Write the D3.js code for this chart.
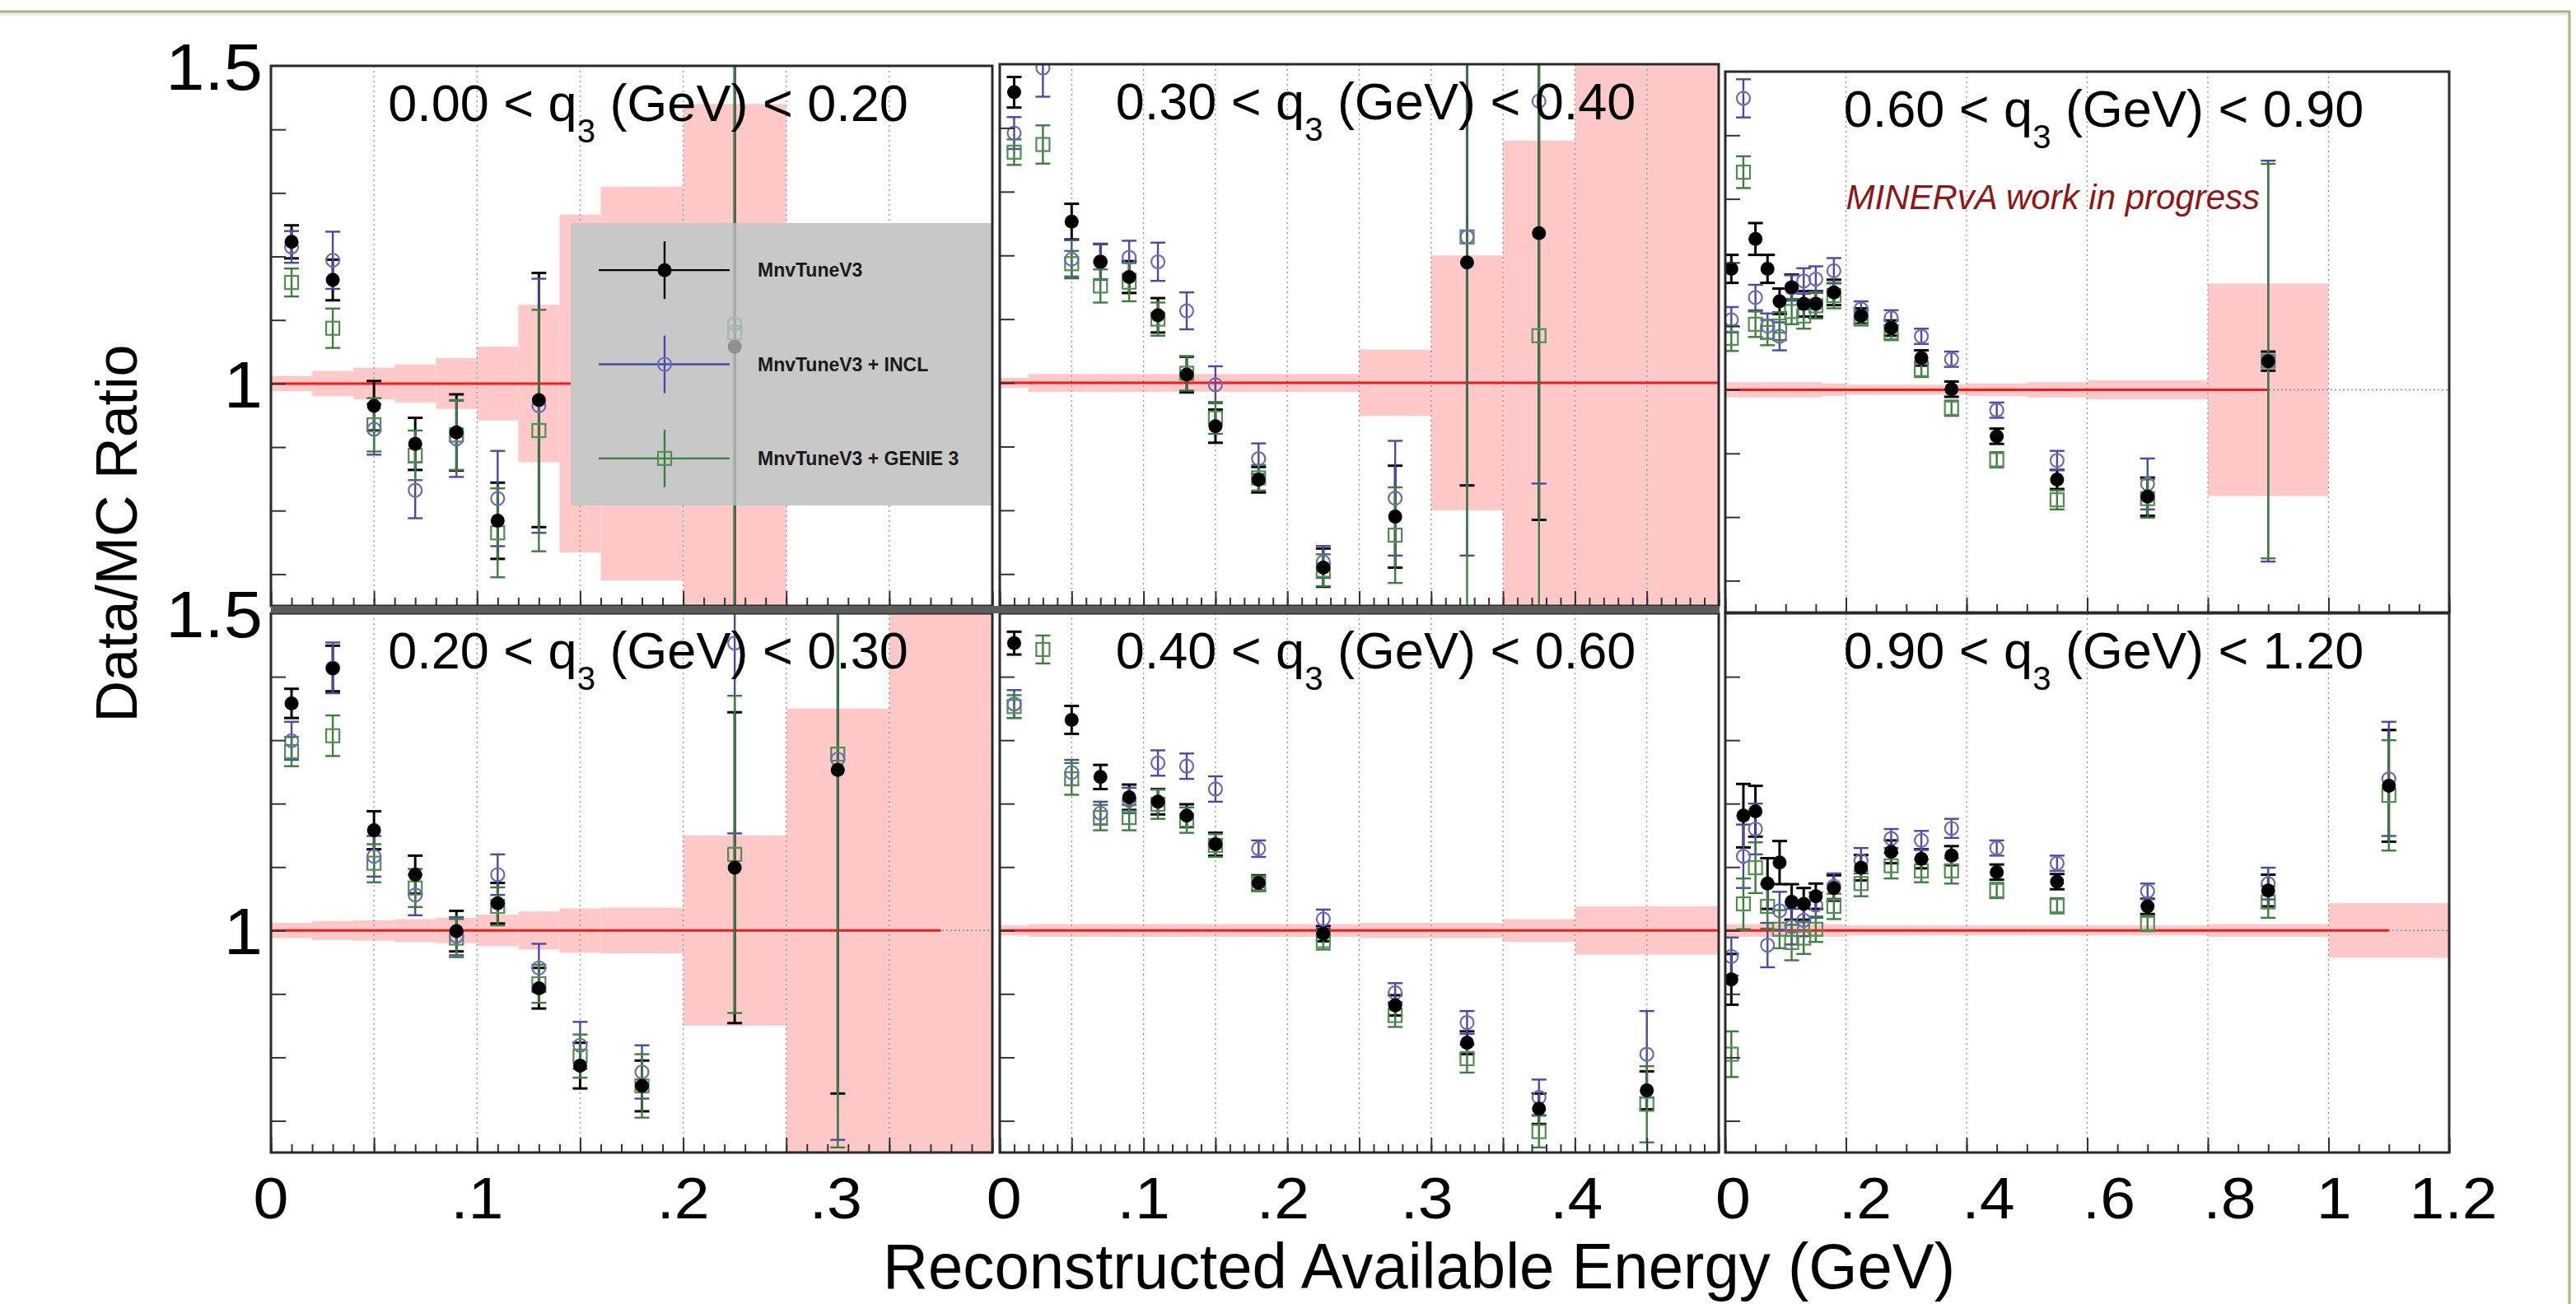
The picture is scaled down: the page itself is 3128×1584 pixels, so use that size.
<!DOCTYPE html>
<html><head><meta charset="utf-8">
<script src="https://cdn.jsdelivr.net/npm/d3@7"></script>
<style>html,body{margin:0;padding:0;background:#fff;} svg{display:block;font-family:"Liberation Sans",Arial,Helvetica,sans-serif;}</style>
</head><body><svg id="c" width="3128" height="1584"></svg>
<script>
// ---------------- data ----------------
const binEdges = [0,0.02,0.04,0.06,0.08,0.10,0.12,0.14,0.16,0.20,0.25,0.30,0.35,0.40,0.50,0.60,0.80,1.00,1.20];
const binCenters = [0.01,0.03,0.05,0.07,0.09,0.11,0.13,0.15,0.18,0.225,0.275,0.325,0.375,0.45,0.55,0.70,0.90,1.10];
const q3Low  = ["0.00","0.30","0.60","0.20","0.40","0.90"];
const q3High = ["0.20","0.40","0.90","0.30","0.60","1.20"];
const xMax = [0.35,0.5,1.2,0.35,0.5,1.2];
const yRange = [0.65,1.5];
const yTickValues = [0.7,0.8,0.9,1.0,1.1,1.2,1.3,1.4];
const yLabelValues = [1.5,1.0];
const yLabelText = ["1.5","1"];
const xLabelText = [["0",".1",".2",".3"],["0",".1",".2",".3",".4"],["0",".2",".4",".6",".8","1","1.2"]];
const xLabelAt = [[0,0.1,0.2,0.274],[0.003,0.1,0.197,0.297,0.401],[0.013,0.232,0.436,0.636,0.836,1.009,1.207]];
const seriesNames = ["MnvTuneV3","MnvTuneV3 + INCL","MnvTuneV3 + GENIE 3"];

const tuneV3 = [
 [1.223,1.163,0.965,0.905,0.923,0.784,0.974,null,null,1.058,null,null],
 [1.456,null,1.253,1.190,1.166,1.106,1.013,0.932,0.848,0.710,0.790,1.189,1.235,null],
 [1.190,null,1.237,1.190,1.139,1.161,1.135,1.135,1.153,1.116,1.097,1.050,1.001,0.927,0.859,0.832,1.045,null],
 [1.358,1.413,1.158,1.088,0.999,1.043,0.909,0.787,0.755,1.099,1.253,null],
 [1.453,null,1.332,1.242,1.210,1.203,1.181,1.136,1.075,0.995,0.882,0.823,0.719,0.748],
 [0.923,1.181,1.188,1.074,1.107,1.045,1.042,1.054,1.067,1.099,1.124,1.113,1.118,1.092,1.077,1.038,1.063,1.228]
];
const tuneV3Err = [
 [0.026,0.032,0.039,0.041,0.060,0.060,0.200,null,null,0.6,null,null],
 [0.024,null,0.028,0.028,0.025,0.027,0.028,0.026,0.020,0.030,0.080,0.350,0.450,null],
 [0.022,null,0.025,0.022,0.020,0.020,0.020,0.020,0.020,0.012,0.012,0.012,0.012,0.012,0.015,0.030,0.015,null],
 [0.023,0.036,0.030,0.030,0.032,0.032,0.032,0.036,0.040,0.245,0.510,null],
 [0.018,null,0.022,0.019,0.020,0.020,0.018,0.018,0.012,0.012,0.016,0.018,0.024,0.030],
 [0.040,0.050,0.040,0.040,0.034,0.028,0.025,0.020,0.020,0.020,0.018,0.015,0.015,0.012,0.012,0.012,0.025,0.088]
];
const incl = [
 [1.215,1.194,0.928,0.832,0.913,0.819,0.965,null,null,1.094,null,null],
 [1.392,1.494,1.194,1.190,1.197,1.190,1.113,0.997,0.881,0.719,0.819,1.229,1.442,null],
 [1.110,1.458,1.145,1.100,1.084,1.160,1.171,1.174,1.187,1.127,1.113,1.084,1.048,0.968,0.889,0.852,1.045,null],
 [1.299,1.414,1.117,1.056,0.991,1.088,0.941,0.819,0.777,1.453,1.270,null],
 [1.357,null,1.249,1.185,1.205,1.264,1.259,1.223,1.129,1.018,0.902,0.855,0.737,0.805],
 [0.959,1.117,1.160,0.977,1.031,1.006,1.016,1.040,1.070,1.110,1.145,1.142,1.161,1.130,1.106,1.062,1.074,1.239]
];
const inclErr = [
 [0.025,0.045,0.040,0.044,0.060,0.075,0.200,null,null,0.6,null,null],
 [0.025,0.045,0.030,0.028,0.026,0.030,0.029,0.029,0.024,0.025,0.090,0.500,0.600,null],
 [0.020,0.030,0.020,0.020,0.022,0.020,0.020,0.020,0.020,0.012,0.012,0.012,0.012,0.012,0.015,0.040,0.315,null],
 [0.030,0.040,0.032,0.032,0.030,0.032,0.038,0.037,0.042,0.300,0.600,null],
 [0.022,null,0.020,0.018,0.020,0.020,0.020,0.020,0.013,0.015,0.015,0.018,0.028,0.068],
 [0.030,0.050,0.040,0.035,0.030,0.028,0.025,0.020,0.020,0.020,0.015,0.015,0.015,0.012,0.012,0.012,0.025,0.090]
];
const genie3 = [
 [1.159,1.087,0.935,0.887,0.919,0.765,0.926,null,null,1.080,null,null],
 [1.362,1.374,1.187,1.152,1.158,1.100,1.015,0.945,0.851,0.706,0.761,1.229,1.074,null],
 [1.081,1.342,1.103,1.090,1.100,1.123,1.116,1.132,1.148,1.113,1.090,1.032,0.971,0.890,0.827,0.829,1.045,null],
 [1.282,1.307,1.106,1.067,0.988,1.038,0.916,0.802,0.755,1.120,1.278,null],
 [1.353,1.443,1.239,1.178,1.178,1.199,1.174,1.134,1.074,0.984,0.866,0.798,0.683,0.726],
 [0.805,1.042,1.099,1.038,1.002,0.981,0.988,1.002,1.038,1.074,1.102,1.094,1.094,1.063,1.039,1.011,1.045,1.213]
];
const genie3Err = [
 [0.022,0.031,0.042,0.039,0.055,0.070,0.190,null,null,0.9,null,null],
 [0.020,0.030,0.020,0.026,0.030,0.026,0.027,0.025,0.020,0.025,0.075,0.700,0.700,null],
 [0.020,0.025,0.020,0.020,0.022,0.020,0.020,0.020,0.020,0.012,0.012,0.012,0.012,0.012,0.015,0.030,0.310,null],
 [0.023,0.032,0.030,0.030,0.030,0.030,0.030,0.034,0.050,0.250,0.620,null],
 [0.018,0.022,0.025,0.020,0.020,0.023,0.020,0.018,0.012,0.014,0.018,0.022,0.025,0.060],
 [0.036,0.040,0.040,0.035,0.030,0.028,0.025,0.020,0.020,0.020,0.020,0.018,0.020,0.012,0.012,0.012,0.025,0.087]
];
// half-width of the MC uncertainty band per bin (around ratio = 1)
const mcBand = [
 [0.012,0.020,0.025,0.030,0.040,0.058,0.124,0.266,0.310,0.440,0,0],
 [0.008,0.014,0.014,0.014,0.014,0.014,0.014,0.014,0.014,0.014,0.052,0.200,0.380,0.600],
 [0.012,0.012,0.012,0.012,0.012,0.012,0.012,0.012,0.010,0.008,0.008,0.008,0.008,0.010,0.012,0.015,0.167,0],
 [0.012,0.015,0.016,0.018,0.020,0.025,0.030,0.035,0.036,0.150,0.350,0.600],
 [0.008,0.010,0.010,0.010,0.010,0.010,0.010,0.010,0.010,0.010,0.012,0.012,0.018,0.038],
 [0.010,0.010,0.010,0.010,0.010,0.010,0.010,0.010,0.010,0.008,0.008,0.008,0.008,0.008,0.008,0.008,0.010,0.043]
];
const redLineEnd = [0.325,0.55,0.9,0.325,0.55,1.1];

// ---------------- layout ----------------
const panelBox = [
 {x0:329, x1:1205, y0:80, y1:736},
 {x0:1214,x1:2087, y0:78, y1:736},
 {x0:2095,x1:2974, y0:87, y1:744},
 {x0:329, x1:1205, y0:745,y1:1400},
 {x0:1214,x1:2087, y0:745,y1:1400},
 {x0:2095,x1:2974, y0:745,y1:1400}
];
const gridStep = [0.05,0.05,0.2];
const minorStep = [0.01,0.01,0.05];
const styles = {
 tune:  {vals:tuneV3, errs:tuneV3Err, color:"#000000", mk:"circle", lw:3},
 incl:  {vals:incl,   errs:inclErr,   color:"#4a4aa2", mk:"ocircle", lw:2.4},
 genie: {vals:genie3, errs:genie3Err, color:"#3d7d3d", mk:"square", lw:2.4}
};
const errOrder = ["tune","incl","genie"];     // error bars: green drawn last
const markerOrder = ["genie","incl","tune"];  // markers: black on top
const legendOrder = ["tune","incl","genie"];

const svg = d3.select("#c");
const defs = svg.append("defs");

// outer slide frame
svg.append("line").attr("x1",0).attr("x2",3120).attr("y1",17).attr("y2",17).attr("stroke","#ececec").attr("stroke-width",4);
svg.append("line").attr("x1",0).attr("x2",3121).attr("y1",14).attr("y2",14).attr("stroke","#a6b87a").attr("stroke-width",3);
svg.append("line").attr("x1",3120).attr("x2",3120).attr("y1",13).attr("y2",1584).attr("stroke","#a6b87a").attr("stroke-width",3);

function nsteps(max, step){ const n=Math.round(max/step); const a=[]; for(let k=0;k<=n;k++) a.push(+(k*step).toFixed(4)); return a; }

function drawMarker(g, type, cx, cy, color){
  if(type==="circle") g.append("circle").attr("cx",cx).attr("cy",cy).attr("r",8.5).attr("fill",color);
  else if(type==="ocircle") g.append("circle").attr("cx",cx).attr("cy",cy).attr("r",8).attr("fill","none").attr("stroke","#6a6ab8").attr("stroke-width",2.2);
  else g.append("rect").attr("x",cx-8).attr("y",cy-8).attr("width",16).attr("height",16).attr("fill","none").attr("stroke","#4f8f4f").attr("stroke-width",2.2);
}

panelBox.forEach((b,i)=>{
  const col = i%3;
  const x = d3.scaleLinear().domain([0,xMax[i]]).range([b.x0,b.x1]);
  const y = d3.scaleLinear().domain(yRange).range([b.y1,b.y0]);
  defs.append("clipPath").attr("id","clip"+i).append("rect")
    .attr("x",b.x0).attr("y",b.y0).attr("width",b.x1-b.x0).attr("height",b.y1-b.y0);
  const g = svg.append("g").attr("clip-path",`url(#clip${i})`);

  // MC uncertainty band
  mcBand[i].forEach((h,k)=>{
    if(!h) return;
    g.append("rect").attr("x",x(binEdges[k])).attr("width",x(binEdges[k+1])-x(binEdges[k]))
      .attr("y",y(1+h)).attr("height",y(1-h)-y(1+h)).attr("fill","#ffc9c9");
  });
  // vertical grid lines
  const grid = nsteps(xMax[i],gridStep[col]).filter(v=>v>0 && v<xMax[i]-1e-6);
  g.selectAll(".grid").data(grid).enter().append("line")
    .attr("x1",d=>x(d)).attr("x2",d=>x(d)).attr("y1",b.y0).attr("y2",b.y1)
    .attr("stroke","#9a9a9a").attr("stroke-width",1.4).attr("stroke-dasharray","2,4");
  // dotted line at 1
  g.append("line").attr("x1",b.x0).attr("x2",b.x1).attr("y1",y(1)).attr("y2",y(1))
    .attr("stroke","#8a8a8a").attr("stroke-width",1.5).attr("stroke-dasharray","2,3");
  // MC/MC line
  g.append("line").attr("x1",x(0)).attr("x2",x(redLineEnd[i])).attr("y1",y(1)).attr("y2",y(1))
    .attr("stroke","#f01c1c").attr("stroke-width",3);

  let legBox=null;
  if(i===0){
    legBox = {x0:693, x1:b.x1, y0:271, y1:614};
    g.append("rect").attr("x",legBox.x0).attr("y",legBox.y0).attr("width",legBox.x1-legBox.x0)
      .attr("height",legBox.y1-legBox.y0).attr("fill","#c8c8c8");
  }

  // error bars
  errOrder.forEach(key=>{
    const s = styles[key];
    s.vals[i].forEach((v,k)=>{
      if(v===null) return;
      const cx = x(binCenters[k]);
      const e = s.errs[i][k];
      g.append("line").attr("x1",cx).attr("x2",cx).attr("y1",y(v-e)).attr("y2",y(v+e))
        .attr("stroke",s.color).attr("stroke-width",s.lw);
      [v-e,v+e].forEach(c=>{
        g.append("line").attr("x1",cx-9).attr("x2",cx+9).attr("y1",y(c)).attr("y2",y(c))
          .attr("stroke",s.color).attr("stroke-width",s.lw);
      });
    });
  });
  // markers
  markerOrder.forEach(key=>{
    const s = styles[key];
    s.vals[i].forEach((v,k)=>{
      if(v===null) return;
      drawMarker(g, s.mk, x(binCenters[k]), y(v), s.color);
    });
  });

  if(legBox){
    g.append("rect").attr("x",legBox.x0).attr("y",legBox.y0).attr("width",legBox.x1-legBox.x0)
      .attr("height",legBox.y1-legBox.y0).attr("fill","#c8c8c8").attr("opacity",0.72);
    const hh = (legBox.y1-legBox.y0)/3;
    legendOrder.forEach((key,j)=>{
      const s = styles[key];
      const cy = legBox.y0 + hh*(j+0.5);
      const mx = legBox.x0 + 114;
      g.append("line").attr("x1",legBox.x0+34).attr("x2",legBox.x0+193).attr("y1",cy).attr("y2",cy).attr("stroke",s.color).attr("stroke-width",2.4);
      g.append("line").attr("x1",mx).attr("x2",mx).attr("y1",cy-35).attr("y2",cy+35).attr("stroke",s.color).attr("stroke-width",2.4);
      drawMarker(g, s.mk, mx, cy, s.color);
      g.append("text").attr("x",legBox.x0+227).attr("y",cy+8).attr("font-size",23).attr("font-weight","bold")
        .attr("fill","#1a1a1a").text(seriesNames[j]);
    });
  }

  // axes ticks (inward)
  const minor = nsteps(xMax[i],minorStep[col]);
  const axMinor = svg.append("g").attr("transform",`translate(0,${b.y1})`)
    .call(d3.axisBottom(x).tickValues(minor).tickSize(-10).tickFormat(""));
  axMinor.select(".domain").remove();
  axMinor.selectAll("line").attr("stroke","#333").attr("stroke-width",2);
  const axMajor = svg.append("g").attr("transform",`translate(0,${b.y1})`)
    .call(d3.axisBottom(x).tickValues(nsteps(xMax[i],gridStep[col])).tickSize(-18).tickFormat(""));
  axMajor.select(".domain").remove();
  axMajor.selectAll("line").attr("stroke","#333").attr("stroke-width",2);
  const axY = svg.append("g").attr("transform",`translate(${b.x0},0)`)
    .call(d3.axisLeft(y).tickValues(yTickValues).tickSize(-18).tickFormat(""));
  axY.select(".domain").remove();
  axY.selectAll("line").attr("stroke","#333").attr("stroke-width",2);

  // frame
  svg.append("rect").attr("x",b.x0).attr("y",b.y0).attr("width",b.x1-b.x0).attr("height",b.y1-b.y0)
    .attr("fill","none").attr("stroke","#2a2a2a").attr("stroke-width",3);

  // title
  const t = svg.append("text").attr("x",(b.x0+b.x1)/2+20).attr("y",b.y0+67).attr("text-anchor","middle")
    .attr("font-size",63).attr("fill","#000");
  t.append("tspan").text(`${q3Low[i]} < q`);
  t.append("tspan").attr("dy",26).attr("font-size",40).text("3");
  t.append("tspan").attr("dy",-26).text(` (GeV) < ${q3High[i]}`);

  // y labels on left column
  if(col===0){
    yLabelValues.forEach((v,j)=>{
      svg.append("text").attr("transform",`translate(${b.x0-10},${y(v)+29}) scale(1.06,1)`)
        .attr("text-anchor","end").attr("font-size",80).attr("fill","#000").text(yLabelText[j]);
    });
  }
  // x labels on bottom row
  if(i>=3){
    xLabelText[col].forEach((txt,j)=>{
      svg.append("text").attr("transform",`translate(${x(xLabelAt[col][j])},1480) scale(1.1,1)`)
        .attr("text-anchor","middle").attr("font-size",70).attr("fill","#000").text(txt);
    });
  }
  if(i===2){
    svg.append("text").attr("x",x(0.2)).attr("y",b.y0+167).attr("font-size",42)
      .attr("font-style","italic").attr("fill","#8f1616").text("MINERvA work in progress");
  }
});

// thick separator under the top-left and top-middle panels
svg.append("rect").attr("x",329).attr("y",736).attr("width",1759).attr("height",9).attr("fill","#5c5c5c");

// axis titles
svg.append("text").attr("x",1072).attr("y",1565).attr("font-size",78).attr("textLength",1302)
  .attr("lengthAdjust","spacingAndGlyphs").attr("fill","#000").text("Reconstructed Available Energy (GeV)");
svg.append("text").attr("transform","translate(166,648) rotate(-90)").attr("text-anchor","middle")
  .attr("font-size",70).attr("fill","#000").text("Data/MC Ratio");
</script></body></html>
